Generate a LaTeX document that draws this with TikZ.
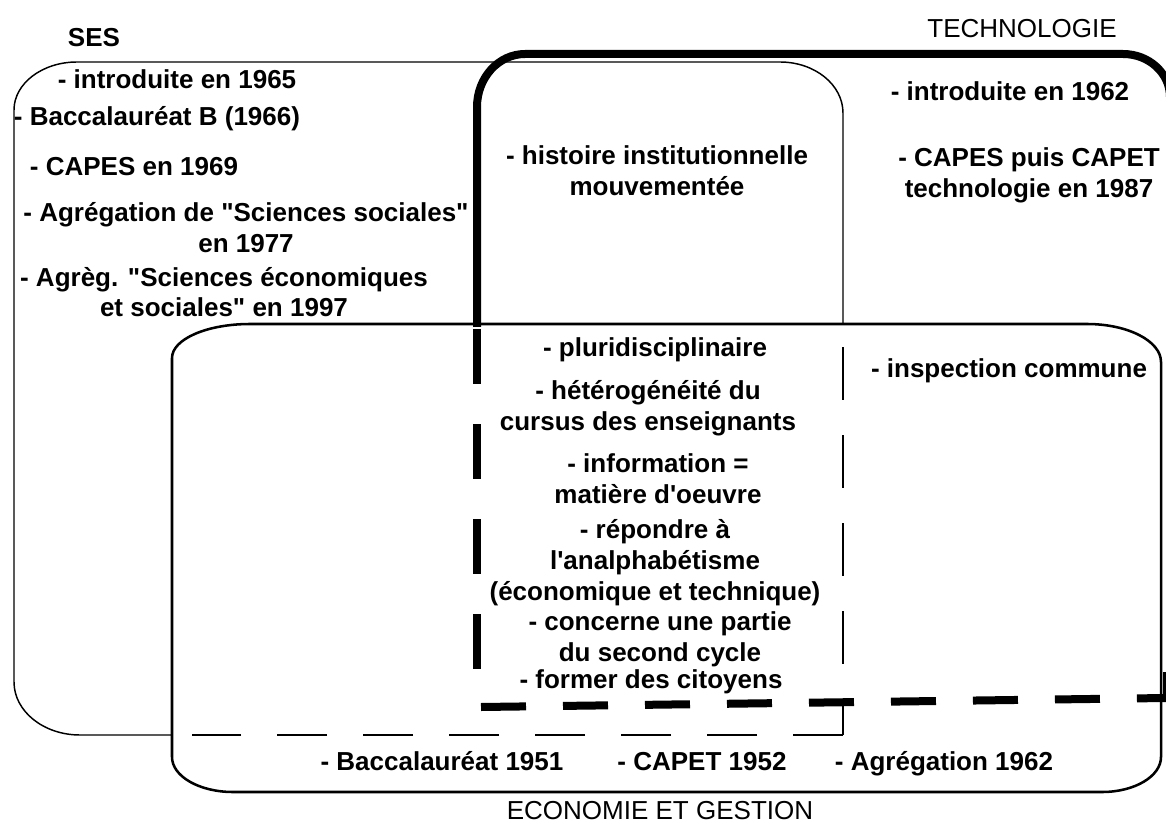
\documentclass[tikz,border=0pt]{standalone}
\usepackage{fontspec}
\setmainfont{Liberation Sans}
\begin{document}
\begin{tikzpicture}[x=0.75pt,y=-0.75pt,
  sesline/.style={draw=black,line width=1.1pt},
  sesdash/.style={draw=black,line width=1.2pt,dash pattern=on 39.75pt off 26.25pt},
  sesdashb/.style={draw=black,line width=1.2pt,dash pattern=on 37.5pt off 27pt},
  egline/.style={draw=black,line width=1.9pt},
  techline/.style={draw=black,line width=6pt},
  techdashv/.style={draw=black,line width=6pt,dash pattern=on 41.25pt off 30pt},
  techdashh/.style={draw=black,line width=6pt,dash pattern=on 33.75pt off 27.75pt},
  txt/.style={font=\fontsize{19.5}{23.25}\selectfont\bfseries,inner sep=0pt,anchor=base,align=center},
  ttl/.style={font=\fontsize{19.5}{23.25}\selectfont,inner sep=0pt,anchor=base}]
\useasboundingbox (0,0) rectangle (1166,823);
\fill[white] (0,0) rectangle (1166,823);

% SES box (thin)
\coordinate (sesA) at (843,325);
\coordinate (sesB) at (172,735);
\draw[sesline] (sesA) -- (843,113) .. controls (843,84.8) and (814.8,62) .. (780,62)
  -- (77,62) .. controls (42.2,62) and (14,83.5) .. (14,110)
  -- (14,682) .. controls (14,711.3) and (43.6,735) .. (80,735) -- (sesB);
\coordinate (sesC) at (843,347);
\coordinate (sesD) at (843,735);
\coordinate (sesE) at (192,735);
\draw[sesdash] (sesC) -- (sesD);
\draw[sesdashb] (sesD) -- (sesE);

% ECONOMIE ET GESTION box
\draw[egline] (172,358) .. controls (172,339.2) and (206.9,324) .. (250,324)
  -- (1087,324) .. controls (1127.8,324) and (1161,341) .. (1161,362)
  -- (1161,757) .. controls (1161,776.3) and (1134.6,792) .. (1102,792)
  -- (233,792) .. controls (199.3,792) and (172,776.3) .. (172,757) -- cycle;

% TECHNOLOGIE box (thick)
\coordinate (tA) at (477,327);
\coordinate (tB) at (1170,327);
\draw[techline] (tA) -- (477,107) .. controls (477,77.7) and (498.5,54) .. (525,54)
  -- (1123,54) .. controls (1149,54) and (1170,73.3) .. (1170,97) -- (tB);
\coordinate (tC) at (477,329);
\coordinate (tD) at (477,682);
\coordinate (tE) at (481,707);
\coordinate (tF) at (1166,698);
\coordinate (tG) at (1167,672);
\coordinate (tH) at (1167,700);
\draw[techdashv] (tC) -- (tD);
\draw[techdashh] (tE) -- (tF);
\draw[techline] (tG) -- (tH);

% titles
\node[ttl,font=\fontsize{19.5}{23.25}\selectfont\bfseries] (lses) at (94,47) {SES};
\node[ttl] (ltech) at (1022,38) {TECHNOLOGIE};
\node[ttl] (leg) at (660,819) {ECONOMIE ET GESTION};

% SES texts
\node[txt] (s1) at (177,89) {- introduite en 1965};
\node[txt] (s2) at (157,126) {- Baccalauréat B (1966)};
\node[txt] (s3) at (134,176) {- CAPES en 1969};
\node[txt] (s4) at (246,253) {- Agrégation de \textquotedbl Sciences sociales\textquotedbl\\en 1977};
\node[txt,font=\fontsize{19.5}{21.75}\selectfont\bfseries] (s5) at (224,316) {- Agrèg. \textquotedbl Sciences économiques\\et sociales\textquotedbl\ en 1997};

% SES & TECHNOLOGIE
\node[txt] (h1) at (657,196) {- histoire institutionnelle\\mouvementée};

% TECHNOLOGIE texts
\node[txt] (t1) at (1010,101) {- introduite en 1962};
\node[txt] (t2) at (1029,198) {- CAPES puis CAPET\\technologie en 1987};

% common core
\node[txt] (m1) at (655,356) {- pluridisciplinaire};
\node[txt] (m2) at (648,430) {- hétérogénéité du\\cursus des enseignants};
\node[txt] (m3) at (658,503) {- information =\\matière d\textquotesingle oeuvre};
\node[txt] (m4) at (655,600) {- répondre à\\l\textquotesingle analphabétisme\\(économique et technique)};
\node[txt] (m5) at (660,661) {- concerne une partie\\du second cycle};
\node[txt] (m6) at (651,688) {- former des citoyens};

% TECHNOLOGIE & EG
\node[txt] (e1) at (1009,377) {- inspection commune};

% EG texts
\node[txt] (b1) at (442,770) {- Baccalauréat 1951};
\node[txt] (b2) at (702,770) {- CAPET 1952};
\node[txt] (b3) at (944,770) {- Agrégation 1962};
\end{tikzpicture}
\end{document}
